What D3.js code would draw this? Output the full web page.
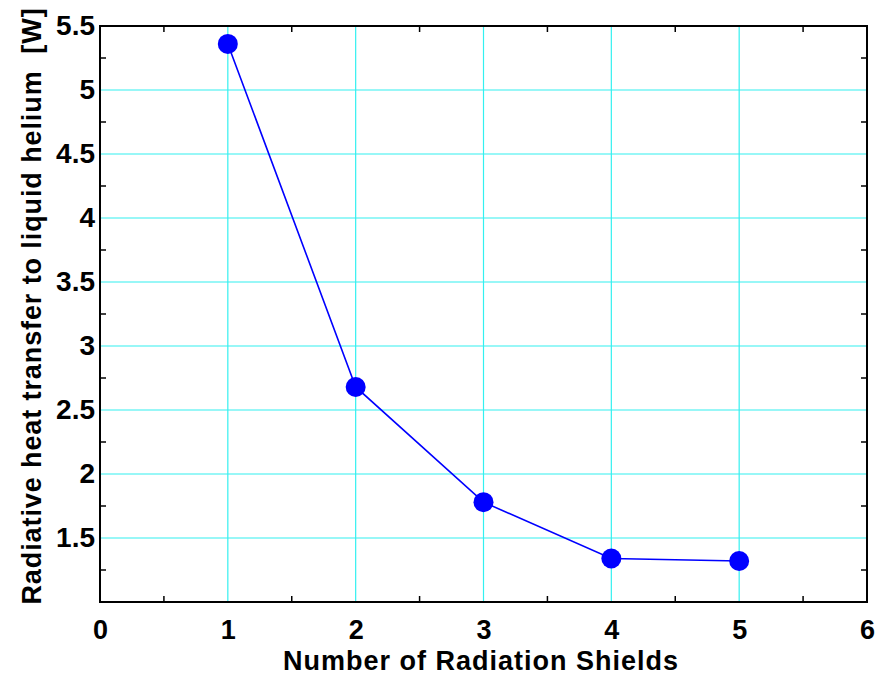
<!DOCTYPE html>
<html>
<head>
<meta charset="utf-8">
<script src="https://cdn.jsdelivr.net/npm/d3@7"></script>
<style>
  html, body { margin: 0; padding: 0; background: #fff; }
  svg { display: block; font-family: "Liberation Sans", Arial, sans-serif; font-weight: bold; }
</style>
</head>
<body>
<svg id="chart" width="878" height="680"></svg>
<script>
// Number of radiation shields vs. radiative heat load to the helium bath
const shields = [1, 2, 3, 4, 5];
const heatW = [5.36, 2.68, 1.78, 1.34, 1.32];
const xTicks = [0, 1, 2, 3, 4, 5, 6];
const yTicks = [1.5, 2, 2.5, 3, 3.5, 4, 4.5, 5, 5.5];
const xMinor = [0.5, 1.5, 2.5, 3.5, 4.5, 5.5];
const yMinor = [1.25, 1.75, 2.25, 2.75, 3.25, 3.75, 4.25, 4.75, 5.25];

const svg = d3.select("#chart");
const plotL = 100, plotR = 867, plotT = 26, plotB = 602;
const font = "Liberation Sans, Arial, sans-serif";

const x = d3.scaleLinear().domain([0, 6]).range([plotL, plotR]);
const y = d3.scaleLinear().domain([1.0, 5.5]).range([plotB, plotT]);

// grid
const grid = svg.append("g").attr("stroke", "#33f0f0").attr("stroke-width", 1.2);
grid.selectAll("line.vx").data(xTicks.filter(d => d > 0 && d < 6)).join("line")
  .attr("x1", d => x(d)).attr("x2", d => x(d)).attr("y1", plotT).attr("y2", plotB);
grid.selectAll("line.hy").data(yTicks.filter(d => d < 5.5)).join("line")
  .attr("y1", d => y(d)).attr("y2", d => y(d)).attr("x1", plotL).attr("x2", plotR);

// minor inward ticks on all four sides
const tickLen = 6;
const ticks = svg.append("g").attr("stroke", "#000").attr("stroke-width", 1.5);
xMinor.forEach(v => {
  ticks.append("line").attr("x1", x(v)).attr("x2", x(v)).attr("y1", plotB).attr("y2", plotB - tickLen);
  ticks.append("line").attr("x1", x(v)).attr("x2", x(v)).attr("y1", plotT).attr("y2", plotT + tickLen);
});
yMinor.forEach(v => {
  ticks.append("line").attr("y1", y(v)).attr("y2", y(v)).attr("x1", plotL).attr("x2", plotL + tickLen);
  ticks.append("line").attr("y1", y(v)).attr("y2", y(v)).attr("x1", plotR).attr("x2", plotR - tickLen);
});

// frame
svg.append("rect").attr("x", plotL).attr("y", plotT)
  .attr("width", plotR - plotL).attr("height", plotB - plotT)
  .attr("fill", "none").attr("stroke", "#000").attr("stroke-width", 2);

// tick labels
const xAxis = d3.axisBottom(x).tickValues(xTicks).tickSize(0).tickPadding(18).tickFormat(d3.format("d"));
const gx = svg.append("g").attr("transform", `translate(0,${plotB})`).call(xAxis);
gx.select(".domain").remove();
gx.selectAll("text").attr("font-size", 27).attr("font-weight", "bold")
  .attr("font-family", font).attr("fill", "#000");

const yAxis = d3.axisLeft(y).tickValues(yTicks).tickSize(0).tickPadding(5).tickFormat(d => String(d));
const gy = svg.append("g").attr("transform", `translate(${plotL},0)`).call(yAxis);
gy.select(".domain").remove();
gy.selectAll("text").attr("font-size", 28).attr("font-weight", "bold")
  .attr("font-family", font).attr("fill", "#000");

// axis titles
svg.append("text").attr("x", 481).attr("y", 670)
  .attr("text-anchor", "middle").attr("font-size", 27).attr("letter-spacing", 1)
  .text("Number of Radiation Shields");
svg.append("text")
  .attr("transform", "translate(41,306) rotate(-90)")
  .attr("text-anchor", "middle").attr("font-size", 27).attr("letter-spacing", 0.9)
  .style("white-space", "pre")
  .text("Radiative heat transfer to liquid helium  [W]");

// series
const pts = shields.map((s, i) => [s, heatW[i]]);
svg.append("path").datum(pts)
  .attr("fill", "none").attr("stroke", "#0000ff").attr("stroke-width", 1.6)
  .attr("d", d3.line().x(d => x(d[0])).y(d => y(d[1])));
svg.append("g").selectAll("circle").data(pts).join("circle")
  .attr("cx", d => x(d[0])).attr("cy", d => y(d[1])).attr("r", 10)
  .attr("fill", "#0000ff");
</script>
</body>
</html>
